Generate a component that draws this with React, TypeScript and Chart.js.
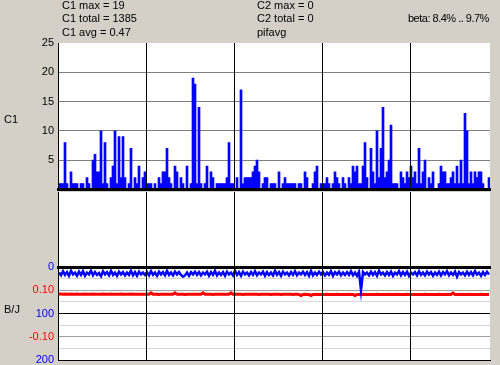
import React, { useEffect, useRef } from "react";
import { Chart, registerables } from "chart.js";

Chart.register(...registerables);

// ---- data ----
const c1Values = [
  1, 1, 1, 8, 1, 0, 3, 1, 1, 1, 0, 1,
  1, 0, 2, 1, 0, 5, 6, 3, 3, 10, 1, 8,
  1, 0, 2, 4, 10, 1, 9, 2, 9, 2, 0, 1,
  7, 0, 2, 1, 4, 0, 2, 3, 1, 1, 1, 0,
  1, 0, 2, 1, 3, 3, 7, 2, 1, 0, 4, 3,
  0, 2, 1, 0, 4, 0, 1, 19, 18, 1, 14, 1,
  0, 1, 4, 0, 3, 2, 0, 1, 1, 1, 1, 1,
  2, 8, 1, 1, 0, 2, 0, 17, 1, 2, 2, 2,
  2, 3, 4, 5, 3, 0, 1, 2, 2, 0, 1, 1,
  1, 0, 3, 0, 1, 2, 1, 1, 1, 1, 1, 0,
  1, 1, 0, 3, 2, 0, 0, 1, 3, 4, 0, 1,
  1, 1, 2, 1, 0, 1, 3, 2, 1, 0, 2, 1,
  0, 2, 1, 4, 3, 4, 1, 1, 4, 8, 2, 0,
  7, 3, 1, 10, 2, 7, 14, 2, 3, 5, 11, 1,
  1, 1, 0, 3, 2, 1, 3, 2, 4, 2, 3, 1,
  7, 1, 3, 5, 0, 2, 1, 3, 0, 0, 1, 4,
  3, 3, 1, 1, 2, 3, 1, 4, 1, 5, 1, 13,
  10, 1, 3, 1, 3, 2, 3, 3, 1, 0, 0, 2,
];

const c2Values: number[] = [];

const bValues = [
  12, 18, 9, 17, 11, 19, 8, 16, 12, 19, 10, 17,
  9, 19, 12, 16, 8, 18, 11, 17, 13, 20, 9, 16,
  11, 18, 8, 17, 12, 19, 10, 16, 11, 18, 12, 17,
  8, 18, 11, 19, 10, 16, 12, 17, 11, 18, 9, 17,
  12, 19, 10, 16, 11, 18, 8, 17, 12, 18, 10, 16,
  11, 17, 21, 18, 12, 19, 11, 16, 10, 17, 11, 18,
  12, 16, 10, 19, 11, 17, 8, 18, 12, 17, 11, 19,
  10, 16, 12, 18, 8, 17, 11, 19, 10, 16, 12, 18,
  11, 17, 9, 18, 12, 16, 10, 19, 11, 17, 12, 18,
  8, 17, 11, 19, 10, 16, 12, 18, 11, 17, 9, 18,
  12, 16, 10, 17, 11, 19, 8, 18, 12, 17, 10, 16,
  11, 18, 12, 17, 9, 19, 11, 16, 10, 18, 12, 17,
  11, 17, 9, 18, 12, 19, 10, 50, 11, 16, 12, 18,
  10, 17, 11, 19, 8, 16, 12, 18, 11, 17, 10, 19,
  12, 16, 9, 18, 11, 17, 10, 19, 12, 16, 11, 18,
  9, 17, 12, 18, 10, 16, 11, 19, 12, 17, 10, 18,
  11, 16, 9, 18, 12, 17, 10, 21, 11, 16, 12, 18,
  10, 17, 11, 18, 9, 16, 12, 19, 11, 17, 10, 16,
];

const jValues = [
  0.084, 0.084, 0.083, 0.084, 0.083, 0.083, 0.084, 0.083, 0.083, 0.084, 0.083, 0.083,
  0.083, 0.084, 0.083, 0.083, 0.083, 0.084, 0.083, 0.083, 0.083, 0.083, 0.084, 0.083,
  0.083, 0.083, 0.084, 0.083, 0.083, 0.083, 0.083, 0.084, 0.083, 0.083, 0.083, 0.083,
  0.084, 0.083, 0.083, 0.083, 0.083, 0.083, 0.083, 0.083, 0.083, 0.083, 0.089, 0.083,
  0.083, 0.083, 0.082, 0.083, 0.083, 0.083, 0.083, 0.083, 0.083, 0.083, 0.089, 0.083,
  0.083, 0.083, 0.083, 0.082, 0.083, 0.083, 0.083, 0.083, 0.083, 0.083, 0.083, 0.083,
  0.089, 0.083, 0.083, 0.083, 0.083, 0.082, 0.083, 0.083, 0.083, 0.083, 0.083, 0.083,
  0.083, 0.083, 0.089, 0.083, 0.083, 0.083, 0.083, 0.083, 0.082, 0.083, 0.083, 0.083,
  0.083, 0.083, 0.083, 0.083, 0.082, 0.083, 0.083, 0.083, 0.083, 0.083, 0.082, 0.083,
  0.083, 0.083, 0.083, 0.082, 0.083, 0.083, 0.083, 0.083, 0.083, 0.082, 0.083, 0.083,
  0.082, 0.077, 0.082, 0.083, 0.082, 0.082, 0.077, 0.082, 0.082, 0.083, 0.082, 0.082,
  0.082, 0.082, 0.083, 0.082, 0.082, 0.082, 0.082, 0.083, 0.082, 0.082, 0.082, 0.082,
  0.082, 0.083, 0.082, 0.082, 0.077, 0.082, 0.082, 0.082, 0.083, 0.082, 0.082, 0.082,
  0.082, 0.082, 0.082, 0.083, 0.082, 0.082, 0.082, 0.082, 0.082, 0.083, 0.082, 0.082,
  0.082, 0.083, 0.082, 0.082, 0.082, 0.082, 0.083, 0.082, 0.082, 0.082, 0.082, 0.082,
  0.082, 0.082, 0.082, 0.083, 0.082, 0.082, 0.082, 0.082, 0.082, 0.082, 0.083, 0.082,
  0.082, 0.082, 0.083, 0.082, 0.082, 0.088, 0.082, 0.082, 0.082, 0.083, 0.082, 0.082,
  0.082, 0.083, 0.082, 0.082, 0.082, 0.082, 0.082, 0.083, 0.082, 0.082, 0.082, 0.082,
];

const c1TickValues = [5, 10, 15, 20, 25];
const bTickValues = [0, 100, 200];
const bTickLabels = ["0", "100", "200"];
const jTickValues = [0.1, -0.1];
const jTickLabels = ["0.10", "-0.10"];

const headerLeft = ["C1 max = 19", "C1 total = 1385", "C1 avg = 0.47"];
const headerMid = ["C2 max = 0", "C2 total = 0", "pifavg"];
const betaText = "beta: 8.4% .. 9.7%";
const labelC1 = "C1";
const labelBJ = "B/J";

// axis ranges of the B/J panel (B is inverted, J shares the same panel)
const B_MIN = 0;
const B_MAX = 200;
const J_MIN = -0.2;
const J_MAX = 0.2;

// ---- styling ----
const FAMILY = "'Liberation Sans', Arial, sans-serif";
const FONT = { family: FAMILY, size: 11 };
const N = c1Values.length;
const X_STEP = 44;
const TRANSPARENT = "rgba(0,0,0,0)";
const BLUE = "#0000FF";
const RED = "#FF0000";

const whiteArea = {
  id: "whiteArea",
  beforeDraw(chart: any) {
    const { ctx, chartArea: a } = chart;
    ctx.save();
    ctx.fillStyle = "#ffffff";
    ctx.fillRect(a.left, a.top, a.right - a.left, a.bottom - a.top);
    ctx.restore();
  },
};

const makeX = (borderWidth: number) => ({
  type: "linear",
  position: "bottom",
  min: 0,
  max: N,
  offset: false,
  ticks: { display: false, stepSize: X_STEP, autoSkip: false },
  grid: {
    offset: false,
    drawTicks: false,
    z: 1,
    lineWidth: 1,
    color: (c: any) => (c.tick && c.tick.value >= N ? TRANSPARENT : "#000000"),
  },
  border: { display: true, color: "#000000", width: borderWidth, z: 1 },
  afterFit: (s: any) => {
    s.height = 0;
  },
});

const baseOptions = (padding: any) => ({
  animation: false,
  responsive: false,
  devicePixelRatio: 1,
  layout: { padding },
  plugins: { legend: { display: false }, tooltip: { enabled: false } },
});

const pts = (arr: number[]) => arr.map((v, i) => ({ x: i + 0.5, y: v }));

// J value sitting at the same height as B value v
const jAtB = (v: number) => J_MAX - ((v - B_MIN) / (B_MAX - B_MIN)) * (J_MAX - J_MIN);

const panelLabel = (v: number) => {
  const k = bTickValues.indexOf(v);
  if (k >= 0) return bTickLabels[k];
  const j = jAtB(v);
  const m = jTickValues.findIndex((t) => Math.abs(t - j) < 1e-9);
  return m >= 0 ? jTickLabels[m] : "";
};

export default function App() {
  const aRef = useRef<HTMLCanvasElement>(null);
  const bRef = useRef<HTMLCanvasElement>(null);
  const cRef = useRef<HTMLCanvasElement>(null);

  useEffect(() => {
    const chartA = new Chart(aRef.current as HTMLCanvasElement, {
      type: "bar",
      data: {
        datasets: [
          {
            label: "C1",
            data: pts(c1Values),
            backgroundColor: BLUE,
            borderWidth: 0,
            barPercentage: 1,
            categoryPercentage: 1,
          },
        ],
      },
      options: {
        ...baseOptions({ top: 43, right: 10, bottom: 8, left: 0 }),
        scales: {
          x: makeX(3),
          y: {
            type: "linear",
            position: "left",
            min: 0,
            max: 25,
            ticks: {
              stepSize: 5,
              autoSkip: false,
              padding: 4,
              color: "#000000",
              font: FONT,
              callback: (v: any) => (c1TickValues.includes(v) ? String(v) : ""),
            },
            grid: {
              drawTicks: false,
              lineWidth: 1,
              color: (c: any) =>
                c.tick && c.tick.value > 0 && c.tick.value < 25 ? "#808080" : TRANSPARENT,
            },
            border: { display: true, color: "#000000", width: 1 },
            afterFit: (s: any) => {
              s.width = 58;
            },
          },
        },
      } as any,
      plugins: [whiteArea],
    });

    const chartB = new Chart(bRef.current as HTMLCanvasElement, {
      type: "bar",
      data: {
        datasets: [
          {
            label: "C2",
            data: pts(c2Values),
            backgroundColor: BLUE,
            borderWidth: 0,
          },
        ],
      },
      options: {
        ...baseOptions({ top: 2, right: 10, bottom: 3, left: 0 }),
        scales: {
          x: makeX(3),
          y: {
            type: "linear",
            position: "left",
            min: 0,
            max: 1,
            ticks: { display: false },
            grid: { display: false, drawTicks: false },
            border: { display: true, color: "#000000", width: 1 },
            afterFit: (s: any) => {
              s.width = 58;
            },
          },
        },
      } as any,
      plugins: [whiteArea],
    });

    const chartC = new Chart(cRef.current as HTMLCanvasElement, {
      type: "line",
      data: {
        datasets: [
          {
            label: "B",
            yAxisID: "yB",
            data: pts(bValues),
            borderColor: BLUE,
            borderWidth: 2.5,
            pointRadius: 0,
            tension: 0,
          },
          {
            label: "J",
            yAxisID: "yJ",
            data: pts(jValues),
            borderColor: RED,
            borderWidth: 3,
            pointRadius: 0,
            tension: 0,
          },
        ],
      },
      options: {
        ...baseOptions({ top: 12, right: 10, bottom: 12, left: 0 }),
        scales: {
          x: makeX(1),
          yB: {
            type: "linear",
            position: "left",
            reverse: true,
            min: B_MIN,
            max: B_MAX,
            ticks: {
              stepSize: 25,
              autoSkip: false,
              padding: 4,
              font: FONT,
              color: (c: any) => (c.tick && bTickValues.includes(c.tick.value) ? BLUE : RED),
              callback: (v: any) => panelLabel(v),
            },
            grid: {
              drawTicks: false,
              lineWidth: 1,
              color: (c: any) => {
                const v = c.tick ? c.tick.value : 0;
                if (v === 0) return TRANSPARENT;
                if (v % 100 === 0) return "#000000";
                if (v % 50 === 0) return "#A0A0A0";
                return "#D8D8D8";
              },
            },
            border: { display: true, color: "#000000", width: 1 },
            afterFit: (s: any) => {
              s.width = 58;
            },
          },
          yJ: {
            type: "linear",
            position: "left",
            display: false,
            min: J_MIN,
            max: J_MAX,
          },
        },
      } as any,
      plugins: [whiteArea],
    });

    return () => {
      chartA.destroy();
      chartB.destroy();
      chartC.destroy();
    };
  }, []);

  const textStyle = (left: number, top: number): React.CSSProperties => ({
    position: "absolute",
    left,
    top,
    lineHeight: "13px",
    whiteSpace: "nowrap",
  });

  return (
    <div
      style={{
        position: "absolute",
        left: 0,
        top: 0,
        width: 500,
        height: 365,
        overflow: "hidden",
        background: "#D4D0C8",
        fontFamily: FAMILY,
        fontSize: 11,
        color: "#000000",
      }}
    >
      <canvas ref={cRef} width={500} height={117} style={{ position: "absolute", left: 0, top: 255 }} />
      <canvas ref={bRef} width={500} height={80} style={{ position: "absolute", left: 0, top: 190 }} />
      <canvas ref={aRef} width={500} height={200} style={{ position: "absolute", left: 0, top: 0 }} />
      {headerLeft.map((t, i) => (
        <div key={"l" + i} style={textStyle(62, -1.3 + i * 13.4)}>
          {t}
        </div>
      ))}
      {headerMid.map((t, i) => (
        <div key={"m" + i} style={textStyle(257, -1.3 + i * 13.4)}>
          {t}
        </div>
      ))}
      <div style={{ ...textStyle(408, 12.1), letterSpacing: "-0.5px" }}>{betaText}</div>
      <div style={textStyle(4, 113)}>{labelC1}</div>
      <div style={textStyle(4, 302.5)}>{labelBJ}</div>
    </div>
  );
}
